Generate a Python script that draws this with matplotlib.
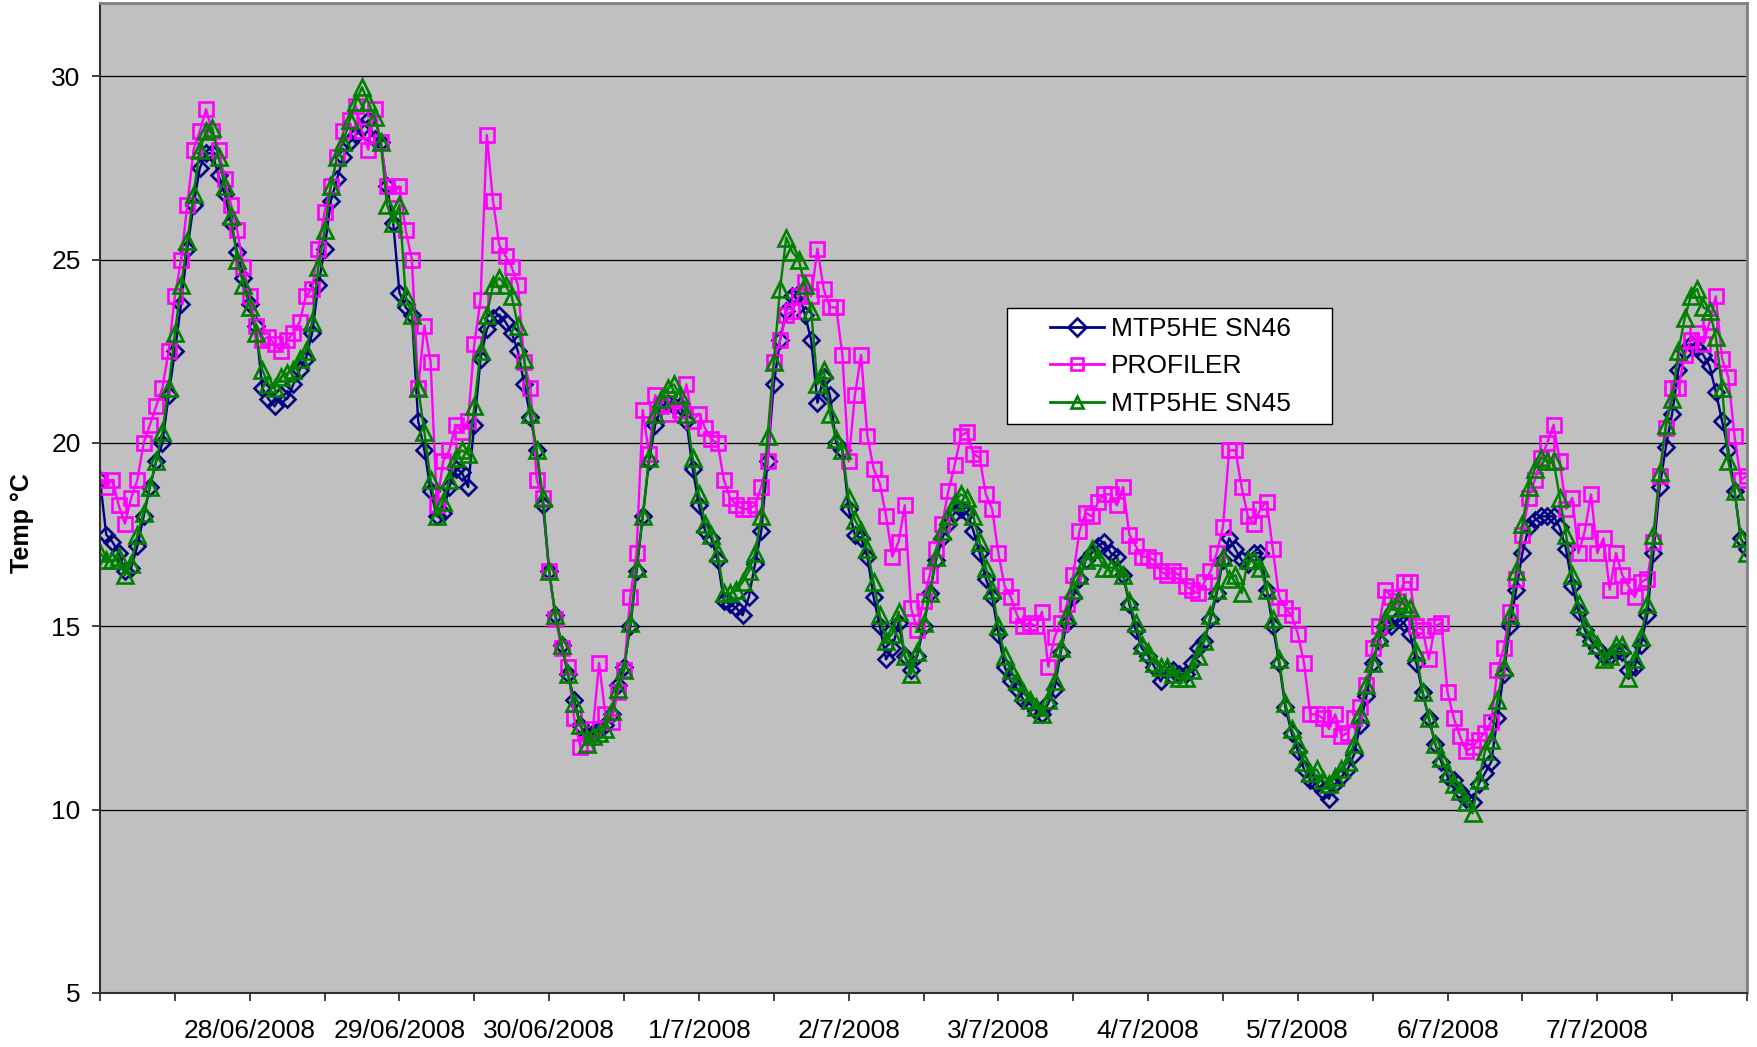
import matplotlib
matplotlib.use("Agg")
import matplotlib.pyplot as plt
from matplotlib.patches import Rectangle
import numpy as np

plt.rcParams['font.family'] = ['Liberation Sans', 'DejaVu Sans']

# Hourly samples from 27/06/2008 00:00 to 08/07/2008 00:00
sn46 = [
    # 27/06
    19.0, 17.5, 17.3, 17.0, 16.5, 16.6, 17.2, 18.0, 18.8, 19.5, 20.0, 21.3,
    22.5, 23.8, 25.3, 26.5, 27.5, 27.9, 27.9, 27.3, 26.8, 26.0, 25.2, 24.5,
    # 28/06
    23.8, 23.2, 21.5, 21.2, 21.0, 21.3, 21.2, 21.6, 22.0, 22.3, 23.0, 24.3,
    25.3, 26.6, 27.2, 27.8, 28.2, 28.4, 28.6, 28.8, 28.3, 28.2, 27.0, 26.0,
    # 29/06
    24.1, 23.7, 23.5, 20.6, 19.8, 18.7, 18.0, 18.1, 18.8, 19.3, 19.2, 18.8,
    20.5, 22.3, 23.1, 23.4, 23.5, 23.3, 23.0, 22.5, 21.6, 20.7, 19.8, 18.3,
    # 30/06
    16.5, 15.3, 14.5, 13.7, 13.0, 12.3, 12.0, 12.1, 12.2, 12.3, 12.6, 13.4,
    13.9, 15.0, 16.5, 18.0, 19.5, 20.5, 21.0, 21.1, 21.0, 21.0, 20.6, 19.3,
    # 1/7
    18.3, 17.6, 17.4, 16.8, 15.7, 15.6, 15.5, 15.3, 15.8, 16.7, 17.6, 19.5,
    21.6, 22.8, 23.6, 24.0, 24.1, 23.5, 22.8, 21.1, 21.8, 21.3, 20.0, 19.8,
    # 2/7
    18.2, 17.5, 17.4, 16.9, 15.8, 15.0, 14.1, 14.4, 15.1, 14.2, 13.8, 14.2,
    15.0, 15.9, 16.8, 17.4, 17.8, 18.1, 18.2, 18.1, 17.6, 17.0, 16.3, 15.8,
    # 3/7
    14.8, 13.9, 13.5, 13.3, 13.0, 12.9, 12.7, 12.6, 12.9, 13.3, 14.3, 15.1,
    15.8, 16.3, 16.8, 17.0, 17.2, 17.3, 17.0, 16.9, 16.4, 15.6, 14.9, 14.4,
    # 4/7
    14.2, 13.9, 13.5, 13.8, 13.8, 13.7, 13.7, 14.0, 14.4, 14.6, 15.2, 15.9,
    16.8, 17.4, 17.1, 16.8, 16.7, 17.0, 17.0, 16.0, 15.0, 14.0, 12.8, 12.1,
    # 5/7
    11.6, 11.1, 10.8, 10.7, 10.5, 10.3, 10.7, 10.9, 11.1, 11.5, 12.3, 13.1,
    14.0, 14.6, 15.0, 15.0, 15.2, 15.1, 14.8, 14.0, 13.2, 12.5, 11.8, 11.3,
    # 6/7
    10.9, 10.8, 10.5, 10.3, 10.2, 10.7, 11.0, 11.3, 12.5, 13.7, 15.0, 16.0,
    17.0, 17.7, 17.9, 18.0, 18.0, 18.0, 17.7, 17.1, 16.1, 15.4, 14.9, 14.6,
    # 7/7
    14.4, 14.2, 14.2, 14.3, 14.3, 13.8, 13.9, 14.5, 15.3, 17.0, 18.8, 19.9,
    20.8, 22.0, 22.5, 22.7, 22.6, 22.4, 22.1, 21.4, 20.6, 19.8, 18.7, 17.4,
    # 8/7
    17.1,
]

profiler = [
    # 27/06
    19.0, 18.8, 19.0, 18.3, 17.8, 18.5, 19.0, 20.0, 20.5, 21.0, 21.5, 22.5,
    24.0, 25.0, 26.5, 28.0, 28.5, 29.1, 28.5, 28.0, 27.2, 26.5, 25.8, 24.8,
    # 28/06
    24.0, 23.2, 22.8, 22.9, 22.7, 22.5, 22.8, 23.0, 23.3, 24.0, 24.2, 25.3,
    26.3, 27.0, 27.8, 28.5, 28.8, 29.2, 28.5, 28.0, 29.1, 28.2, 27.0, 26.8,
    # 29/06
    27.0, 25.8, 25.0, 21.5, 23.2, 22.2, 18.3, 19.5, 19.8, 20.5, 20.3, 20.6,
    22.7, 23.9, 28.4, 26.6, 25.4, 25.1, 24.8, 24.3, 22.2, 21.5, 19.0, 18.5,
    # 30/06
    16.5, 15.2, 14.4, 13.9, 12.5, 11.7, 11.8, 12.2, 14.0, 12.6, 12.4, 13.2,
    13.8, 15.8, 17.0, 20.9, 19.7, 21.3, 21.0, 20.8, 21.2, 20.9, 21.6, 20.6,
    # 1/7
    20.8, 20.4, 20.1, 20.0, 19.0, 18.5, 18.3, 18.2, 18.2, 18.3, 18.8, 19.5,
    22.2, 22.8, 23.5, 23.6, 24.0, 24.4, 24.0, 25.3, 24.2, 23.7, 23.7, 22.4,
    # 2/7
    19.5, 21.3, 22.4, 20.2, 19.3, 18.9, 18.0, 16.9, 17.3, 18.3, 15.5, 14.9,
    15.7, 16.4, 17.1, 17.8, 18.7, 19.4, 20.2, 20.3, 19.7, 19.6, 18.6, 18.2,
    # 3/7
    17.0, 16.1, 15.8, 15.3, 15.0, 15.1, 15.0, 15.4, 13.9, 14.7, 15.1, 15.6,
    16.4, 17.6, 18.1, 18.0, 18.4, 18.6, 18.6, 18.3, 18.8, 17.5, 17.2, 16.9,
    # 4/7
    16.9, 16.8, 16.5, 16.4, 16.5, 16.4, 16.1, 16.0, 15.9, 16.2, 16.5, 17.0,
    17.7, 19.8, 19.8, 18.8, 18.0, 17.8, 18.2, 18.4, 17.1, 15.8, 15.5, 15.3,
    # 5/7
    14.8, 14.0, 12.6, 12.6, 12.5, 12.2, 12.6, 12.0, 12.1, 12.5, 12.8, 13.4,
    14.4, 15.0, 16.0, 15.8, 15.7, 16.2, 16.2, 15.0, 14.9, 14.1, 15.0, 15.1,
    # 6/7
    13.2, 12.5, 12.0, 11.6, 11.7, 11.9, 12.1, 12.4, 13.8, 14.4, 15.4, 16.3,
    17.5, 18.5, 19.0, 19.6, 20.0, 20.5, 19.5, 18.2, 18.5, 17.0, 17.6, 18.6,
    # 7/7
    17.0, 17.4, 16.0, 17.0, 16.4, 16.1, 15.8, 16.2, 16.3, 17.3, 19.1, 20.4,
    21.5, 21.5, 22.4, 22.8, 23.0, 22.7, 23.3, 24.0, 22.3, 21.8, 20.2, 19.0,
    # 8/7
    19.1,
]

sn45 = [
    # 27/06
    17.0, 16.8, 16.8, 16.9, 16.4, 16.7, 17.5, 18.1, 18.8, 19.5, 20.3, 21.5,
    23.0, 24.3, 25.5, 26.8, 28.0, 28.5, 28.6, 27.8, 27.0, 26.2, 25.0, 24.3,
    # 28/06
    23.7, 23.0, 22.0, 21.6, 21.5, 21.8, 21.9, 22.0, 22.3, 22.5, 23.3, 24.8,
    25.8, 27.0, 27.8, 28.2, 28.8, 29.3, 29.7, 29.3, 28.9, 28.2, 26.5, 26.0,
    # 29/06
    26.5, 24.0, 23.5, 21.5, 20.3, 19.0, 18.0, 18.4, 19.0, 19.6, 19.8, 19.7,
    21.0, 22.5, 23.5, 24.3, 24.5, 24.3, 24.0, 23.2, 22.3, 20.8, 19.8, 18.5,
    # 30/06
    16.5, 15.3, 14.5, 13.7, 12.9, 12.3, 11.8, 12.0, 12.1, 12.2, 12.7, 13.3,
    13.8, 15.1, 16.6, 18.0, 19.6, 20.8, 21.2, 21.5, 21.6, 21.3, 20.8, 19.6,
    # 1/7
    18.6, 17.8, 17.5, 17.0, 15.9, 15.9, 16.0, 16.2, 16.5, 17.0, 18.0, 20.2,
    22.2, 24.2, 25.6, 25.2, 25.0, 24.3, 23.6, 21.6, 22.0, 20.8, 20.1, 19.8,
    # 2/7
    18.5, 17.9, 17.6, 17.1, 16.2, 15.3, 14.6, 14.8, 15.4, 14.2, 13.7, 14.3,
    15.1, 15.9, 16.9, 17.6, 18.0, 18.4, 18.6, 18.5, 18.0, 17.3, 16.6, 16.0,
    # 3/7
    15.0, 14.2, 13.8, 13.5, 13.2, 13.0, 12.8, 12.6, 13.0, 13.5, 14.4, 15.3,
    16.0, 16.4, 16.8, 17.1, 16.9, 16.6, 16.6, 16.6, 16.4, 15.7, 15.1, 14.5,
    # 4/7
    14.3, 14.0, 13.9, 13.9, 13.7, 13.6, 13.6, 13.8, 14.2, 14.6, 15.3, 16.0,
    16.9, 16.3, 16.4, 15.9, 16.8, 16.8, 16.6, 16.0, 15.2, 14.1, 12.9, 12.2,
    # 5/7
    11.8, 11.3, 11.0, 11.1, 10.8, 10.7, 10.9, 11.1, 11.3, 11.8, 12.6, 13.4,
    14.0, 14.7, 15.2, 15.5, 15.7, 15.6, 15.5, 14.3, 13.2, 12.5, 11.8, 11.4,
    # 6/7
    11.0, 10.7, 10.5, 10.2, 9.9, 10.8, 11.6, 11.9, 13.0, 13.9, 15.3, 16.5,
    17.8, 18.8, 19.3, 19.6, 19.5, 19.5, 18.5, 17.5, 16.4, 15.6, 15.0, 14.7,
    # 7/7
    14.5, 14.1, 14.2, 14.5, 14.5, 13.6, 14.1, 14.7, 15.6, 17.5, 19.2, 20.5,
    21.2, 22.5, 23.4, 24.0, 24.2, 23.7, 23.6, 22.9, 21.5, 19.5, 18.7, 17.4,
    # 8/7
    17.0,
]

date_labels = ['28/06/2008', '29/06/2008', '30/06/2008', '1/7/2008', '2/7/2008',
               '3/7/2008', '4/7/2008', '5/7/2008', '6/7/2008', '7/7/2008']
series_names = ['MTP5HE SN46', 'PROFILER', 'MTP5HE SN45']

hours = np.arange(len(sn46))

W, H = 1758, 1047
fig = plt.figure(figsize=(W / 100, H / 100), dpi=100)
ax = fig.add_axes([100 / W, 1 - 993 / H, 1647 / W, 990 / H])
ax.set_facecolor('#C0C0C0')

common = dict(lw=1.7, mfc='none', mew=1.9)
l1, = ax.plot(hours, sn46, color='#000080', marker='D', ms=8, label=series_names[0], **common)
l2, = ax.plot(hours, profiler, color='#FF00FF', marker='s', ms=10.5, label=series_names[1], **common)
l3, = ax.plot(hours, sn45, color='#008000', marker='^', ms=11, label=series_names[2], **common)

ax.set_xlim(0, len(hours) - 1)
ax.set_ylim(5, 32)
ax.set_yticks([5, 10, 15, 20, 25, 30])
ax.yaxis.grid(True, color='black', lw=0.9)
ax.set_axisbelow(True)

tick_pos = np.arange(0, len(hours), 12)
ax.set_xticks(tick_pos)
labels = []
for t in tick_pos:
    if t % 24 == 0 and 1 <= t // 24 <= len(date_labels):
        labels.append(date_labels[t // 24 - 1])
    else:
        labels.append('')
ax.set_xticklabels(labels)

ax.tick_params(axis='both', direction='out', length=6, width=1.2, color='#202020',
               labelsize=19, pad=8)
ax.tick_params(axis='x', pad=13)

for side in ['left', 'bottom']:
    ax.spines[side].set_color('#303030')
    ax.spines[side].set_linewidth(1.5)
for side in ['top', 'right']:
    ax.spines[side].set_color('#808080')
    ax.spines[side].set_linewidth(2.0)

ax.set_ylabel('Temp °C', fontsize=18, fontweight='bold')
ax.yaxis.set_label_coords(34 / W, 0.5, transform=fig.transFigure)

# legend box (Excel style, generous padding)
box = Rectangle((1007 / W, 1 - 424 / H), 325 / W, 116 / H, transform=fig.transFigure,
                facecolor='white', edgecolor='black', lw=1.0, zorder=4)
fig.add_artist(box)
leg = fig.legend([l1, l2, l3], series_names, loc='center left',
                 bbox_to_anchor=(1050 / W, 1 - 366.5 / H), bbox_transform=fig.transFigure,
                 borderaxespad=0, borderpad=0, frameon=False, fontsize=19,
                 handlelength=2.05, handletextpad=0.25, labelspacing=0.52)
leg.set_zorder(5)
for h in leg.legend_handles:
    h.set_markersize(9)
    h.set_linewidth(2.0)

fig.savefig('out.png', dpi=100, facecolor='white')
